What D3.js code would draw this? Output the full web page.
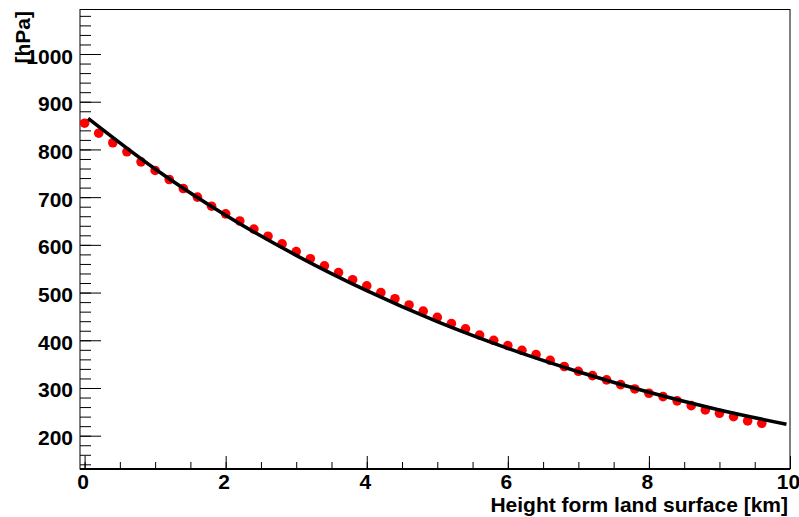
<!DOCTYPE html>
<html lang="en">
<head>
<meta charset="UTF-8">
<title>Pressure vs height</title>
<script src="https://d3js.org/d3.v7.min.js"></script>
<style>
  body { margin: 0; background: #fff; }
  svg { display: block; }
  text { font-family: "Liberation Sans", Arial, Helvetica, sans-serif; font-weight: bold; }
</style>
</head>
<body>
<div class="chart"></div>
<script>
// measured points (red markers)
const heights = [0, 0.2, 0.4, 0.6, 0.8, 1.0, 1.2, 1.4, 1.6, 1.8,
                 2.0, 2.2, 2.4, 2.6, 2.8, 3.0, 3.2, 3.4, 3.6, 3.8,
                 4.0, 4.2, 4.4, 4.6, 4.8, 5.0, 5.2, 5.4, 5.6, 5.8,
                 6.0, 6.2, 6.4, 6.6, 6.8, 7.0, 7.2, 7.4, 7.6, 7.8,
                 8.0, 8.2, 8.4, 8.6, 8.8, 9.0, 9.2, 9.4, 9.6];
const pressures = [855, 834, 814, 795, 774, 756, 737, 718, 700, 681,
                   665, 650, 633, 618, 602, 586, 571, 556, 542, 527,
                   514, 500, 487, 474, 461, 448, 435, 424, 411, 400,
                   389, 379, 370, 358, 345, 335, 326, 317, 307, 298,
                   289, 282, 273, 263, 254, 247, 240, 231, 226];

// fitted curve (black line)
const fitHeights = [0.05, 1, 2, 3, 4, 5, 6, 7, 8, 9, 9.95];
const fitPressures = [865, 759, 662, 578, 504, 439, 383, 334, 291, 254, 224];

const xMajorTicks = [0, 2, 4, 6, 8, 10];
const yMajorTicks = [200, 300, 400, 500, 600, 700, 800, 900, 1000];

const W = 799, H = 517;
const frame = {left: 80, right: 790, top: 9.5, bottom: 469};
const fontSize = '21px';

const svg = d3.select('.chart').append('svg')
    .attr('width', W)
    .attr('height', H);

svg.append('rect').attr('width', W).attr('height', H).attr('fill', '#fff');

const x = d3.scaleLinear().domain([-0.065, 10]).range([frame.left, frame.right]);
const y = d3.scaleLinear().domain([130.2, 1093.3]).range([frame.bottom, frame.top]);

// frame
svg.append('rect')
    .attr('x', frame.left).attr('y', frame.top)
    .attr('width', frame.right - frame.left)
    .attr('height', frame.bottom - frame.top)
    .attr('fill', 'none').attr('stroke', '#000').attr('stroke-width', 1);

// y axis: minor then major ticks, pointing inwards
svg.append('g')
    .attr('transform', `translate(${frame.left},0)`)
    .call(d3.axisLeft(y).tickValues(d3.range(140, 1081, 20)).tickSize(-11).tickFormat(''))
    .call(g => g.select('.domain').remove());

const yAxis = svg.append('g')
    .attr('transform', `translate(${frame.left},0)`)
    .call(d3.axisLeft(y).tickValues(yMajorTicks).tickSize(-21).tickPadding(7).tickFormat(d3.format('d')))
    .call(g => g.select('.domain').remove());
yAxis.selectAll('text')
    .attr('dy', null).attr('y', 9)
    .attr('font-size', fontSize).attr('fill', '#000');
yAxis.attr('font-family', null).attr('font-size', null);

// x axis
svg.append('g')
    .attr('transform', `translate(0,${frame.bottom})`)
    .call(d3.axisBottom(x).tickValues(d3.range(0, 10.01, 0.5)).tickSize(-7).tickFormat(''))
    .call(g => g.select('.domain').remove());

const xAxis = svg.append('g')
    .attr('transform', `translate(0,${frame.bottom})`)
    .call(d3.axisBottom(x).tickValues(xMajorTicks).tickSize(-13).tickFormat(d3.format('d')))
    .call(g => g.select('.domain').remove());
xAxis.selectAll('text')
    .attr('dy', null).attr('y', 19.5).attr('x', -2)
    .attr('font-size', fontSize).attr('fill', '#000');
xAxis.attr('font-family', null).attr('font-size', null);

svg.append('line')
    .attr('x1', frame.left).attr('x2', frame.right)
    .attr('y1', frame.bottom).attr('y2', frame.bottom)
    .attr('stroke', '#000').attr('stroke-width', 2);

// axis titles
svg.append('text')
    .attr('x', 788).attr('y', 511.5)
    .attr('text-anchor', 'end')
    .attr('font-size', fontSize)
    .text('Height form land surface [km]');

svg.append('text')
    .attr('transform', 'translate(30,11) rotate(-90)')
    .attr('text-anchor', 'end')
    .attr('font-size', fontSize)
    .text('[hPa]');

// markers
svg.append('g').selectAll('circle')
    .data(heights.map((h, i) => ({h: h, p: pressures[i]})))
    .join('circle')
    .attr('cx', d => x(d.h))
    .attr('cy', d => y(d.p))
    .attr('r', 4.8)
    .attr('fill', '#ff0000');

// fit line
const line = d3.line()
    .x(d => x(d[0]))
    .y(d => y(d[1]))
    .curve(d3.curveMonotoneX);

svg.append('path')
    .datum(fitHeights.map((h, i) => [h, fitPressures[i]]))
    .attr('d', line)
    .attr('fill', 'none')
    .attr('stroke', '#000')
    .attr('stroke-width', 3.5);
</script>
</body>
</html>
